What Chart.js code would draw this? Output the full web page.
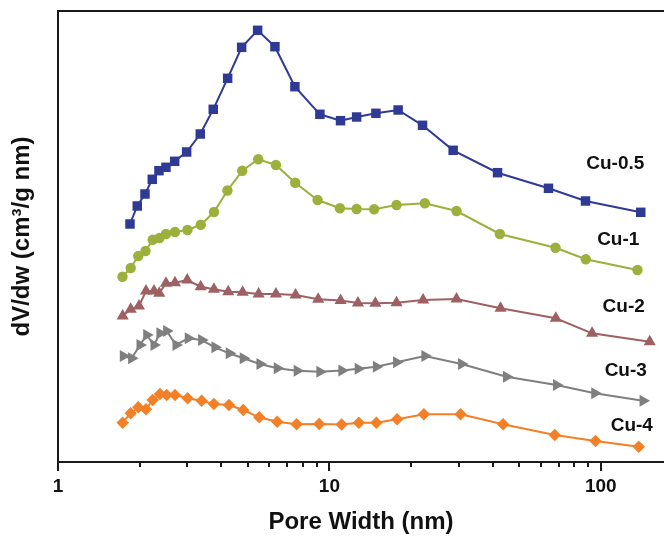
<!DOCTYPE html>
<html>
<head>
<meta charset="utf-8">
<script src="https://cdn.jsdelivr.net/npm/chart.js@4/dist/chart.umd.min.js"></script>
<style>
  html, body { margin: 0; padding: 0; background: #ffffff; overflow: hidden; }
  #c { display: block; }
</style>
</head>
<body>
<canvas id="c" width="664" height="541"></canvas>
<script>
// ---- Data ----
const seriesNames = ["Cu-0.5", "Cu-1", "Cu-2", "Cu-3", "Cu-4"];
const xTickLabels = [1, 10, 100];

const cu05X = [1.842, 1.959, 2.092, 2.225, 2.355, 2.499, 2.691, 2.979, 3.344, 3.733, 4.218, 4.750, 5.440, 6.300, 7.463, 9.226, 10.99, 12.60, 14.84, 17.92, 22.04, 28.58, 41.65, 64.18, 87.84, 140.4];
const cu05Y = [238, 256, 268, 282.7, 291.3, 294.7, 300.7, 310, 328, 352.7, 383.7, 414.7, 431.7, 415.3, 375.3, 347.7, 341.3, 345, 348.7, 352, 336.7, 311.7, 289.3, 273.7, 261, 249.7];

const cu1X = [1.728, 1.853, 1.976, 2.101, 2.233, 2.365, 2.499, 2.698, 2.999, 3.358, 3.755, 4.211, 4.774, 5.468, 6.353, 7.482, 9.048, 10.93, 12.60, 14.62, 17.68, 22.48, 29.41, 42.47, 68.11, 88.07, 136.5];
const cu1Y = [185.3, 194, 206, 211, 222.3, 224, 228, 230, 232, 237.2, 250, 271.5, 291.3, 302.7, 297, 279.3, 262, 253.7, 253, 252.7, 257, 258.7, 251, 228, 214.3, 202.7, 192];

const cu2X = [1.731, 1.853, 1.988, 2.110, 2.258, 2.361, 2.499, 2.698, 2.994, 3.355, 3.755, 4.240, 4.790, 5.487, 6.353, 7.508, 9.094, 10.996, 12.74, 14.77, 17.68, 22.15, 29.41, 42.72, 68.28, 92.88, 151.5];
const cu2Y = [146, 152.7, 156, 171, 171, 168.7, 178.7, 179.3, 182, 175.3, 172.7, 170.3, 169.7, 168, 168, 167, 162.7, 161.5, 159, 158.7, 159.3, 162, 163, 153.7, 143.7, 128.7, 120.3];

const cu3X = [1.740, 1.868, 2.005, 2.122, 2.258, 2.375, 2.514, 2.721, 3.019, 3.383, 3.787, 4.276, 4.815, 5.548, 6.424, 7.610, 9.226, 11.12, 12.77, 14.90, 17.68, 22.48, 30.69, 44.95, 68.69, 95.03, 143.2];
const cu3Y = [106, 103.7, 117, 127, 117, 128.7, 131, 117, 123.7, 122, 114.7, 108.7, 103.7, 98, 93.7, 91.3, 90.3, 91.5, 93.3, 95.3, 99.7, 106, 98, 85.3, 77, 68.7, 61.3];

const cu4X = [1.731, 1.853, 1.976, 2.110, 2.233, 2.375, 2.514, 2.698, 3.004, 3.383, 3.755, 4.265, 4.815, 5.515, 6.424, 7.571, 9.171, 11.09, 12.84, 14.90, 17.77, 22.29, 30.43, 43.67, 67.70, 95.60, 138.0];
const cu4Y = [39.3, 48.7, 54.7, 52.7, 62, 68, 67, 67, 63.7, 61.3, 58, 57, 52, 44.7, 40.3, 37.7, 38, 37.5, 39.3, 39.3, 42.7, 47.7, 47.7, 37.7, 27, 21, 15.3];

// label anchors in data units (x, y)
const labelX = [113.1, 116.0, 121.5, 123.6, 130.1];
const labelY = [298, 222, 155.3, 91.3, 36];

// ---- Styles ----
const colors = ['#2E3A93', '#9CB03C', '#9E6163', '#7F7F7F', '#F37F27'];
const FONT = "'Liberation Sans', Arial, Helvetica, sans-serif";

function pts(xs, ys) { return xs.map((x, i) => ({ x: x, y: ys[i] })); }

const datasets = [
  { label: seriesNames[0], data: pts(cu05X, cu05Y), pointStyle: 'rect', pointRadius: 6.7, pointRotation: 0 },
  { label: seriesNames[1], data: pts(cu1X, cu1Y), pointStyle: 'circle', pointRadius: 5.2, pointRotation: 0 },
  { label: seriesNames[2], data: pts(cu2X, cu2Y), pointStyle: 'triangle', pointRadius: 7, pointRotation: 0 },
  { label: seriesNames[3], data: pts(cu3X, cu3Y), pointStyle: 'triangle', pointRadius: 7, pointRotation: 90 },
  { label: seriesNames[4], data: pts(cu4X, cu4Y), pointStyle: 'rectRot', pointRadius: 6.2, pointRotation: 0 }
].map((d, i) => Object.assign(d, {
  borderColor: colors[i],
  backgroundColor: colors[i],
  pointBackgroundColor: colors[i],
  pointBorderColor: colors[i],
  pointBorderWidth: 0,
  pointHoverRadius: d.pointRadius,
  borderWidth: 2,
  tension: 0,
  fill: false,
  clip: false
}));

const framePlugin = {
  id: 'frame',
  afterDraw(chart) {
    const { ctx, chartArea: { left, top, right, bottom }, scales: { x, y } } = chart;
    ctx.save();
    // top border
    ctx.strokeStyle = '#1a1a1a';
    ctx.lineWidth = 2;
    ctx.beginPath();
    ctx.moveTo(left - 1, top);
    ctx.lineTo(chart.width, top);
    ctx.stroke();
    // log tick marks
    ctx.lineWidth = 2;
    for (let d = 1; d <= 1000; d *= 10) {
      for (let k = 1; k <= 9; k++) {
        const v = d * k;
        if (v < x.min || v > x.max) continue;
        const px = Math.round(x.getPixelForValue(v));
        const len = (k === 1) ? 9 : 5;
        ctx.beginPath();
        ctx.moveTo(px, bottom);
        ctx.lineTo(px, bottom + len);
        ctx.stroke();
      }
    }
    // series labels
    ctx.fillStyle = '#111111';
    ctx.font = "bold 19px " + FONT;
    ctx.textAlign = 'center';
    ctx.textBaseline = 'middle';
    for (let i = 0; i < seriesNames.length; i++) {
      ctx.fillText(seriesNames[i], x.getPixelForValue(labelX[i]), y.getPixelForValue(labelY[i]));
    }
    ctx.restore();
  }
};

new Chart(document.getElementById('c'), {
  type: 'line',
  data: { datasets: datasets },
  options: {
    responsive: false,
    devicePixelRatio: 1,
    animation: false,
    events: [],
    layout: { autoPadding: false, padding: { top: 11, right: 0, left: 0, bottom: 0 } },
    plugins: { legend: { display: false }, tooltip: { enabled: false } },
    scales: {
      x: {
        type: 'logarithmic',
        position: 'bottom',
        min: 1,
        max: 171,
        afterBuildTicks: (scale) => { scale.ticks = xTickLabels.map(v => ({ value: v })); },
        afterFit: (scale) => { scale.height = 79; scale.paddingLeft = 0; scale.paddingRight = 0; },
        grid: { display: false, drawTicks: false },
        border: { display: true, color: '#1a1a1a', width: 2 },
        ticks: {
          autoSkip: false,
          maxRotation: 0,
          padding: 13,
          color: '#111111',
          font: { family: FONT, size: 19, weight: 'bold' },
          callback: (v) => String(v)
        },
        title: {
          display: true,
          text: 'Pore Width (nm)',
          color: '#111111',
          font: { family: FONT, size: 24, weight: 'bold' },
          padding: { top: 0, bottom: 4 }
        }
      },
      y: {
        type: 'linear',
        min: 0,
        max: 451,
        afterFit: (scale) => { scale.width = 58; scale.paddingTop = 0; scale.paddingBottom = 0; },
        grid: { display: false, drawTicks: false },
        border: { display: true, color: '#1a1a1a', width: 2 },
        ticks: { display: false },
        title: {
          display: true,
          text: 'dV/dw (cm³/g nm)',
          color: '#111111',
          font: { family: FONT, size: 24, weight: 'bold' },
          padding: { top: 8, bottom: 0 }
        }
      }
    }
  },
  plugins: [framePlugin]
});
</script>
</body>
</html>
